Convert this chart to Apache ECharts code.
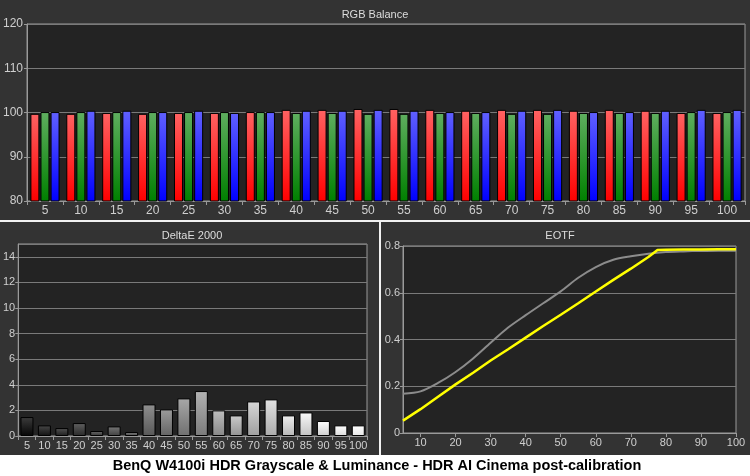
<!DOCTYPE html>
<html>
<head>
<meta charset="utf-8">
<script src="https://cdn.jsdelivr.net/npm/echarts@6/dist/echarts.min.js"></script>
<style>
html,body{margin:0;padding:0;background:#333;}
#c{width:750px;height:476px;}
</style>
</head>
<body>
<div id="c"></div>
<script>
// ---- data ----
var categories = ['5','10','15','20','25','30','35','40','45','50','55','60','65','70','75','80','85','90','95','100'];
var rgbRed   = [99.7, 99.7, 99.9, 99.7, 99.9, 99.9, 100.1, 100.6, 100.6, 100.8, 100.8, 100.6, 100.4, 100.6, 100.6, 100.4, 100.6, 100.4, 99.9, 99.9];
var rgbGreen = [100.1, 100.1, 100.1, 100.1, 100.1, 100.1, 100.1, 99.9, 99.9, 99.7, 99.7, 99.9, 99.9, 99.7, 99.7, 99.9, 99.9, 99.9, 100.1, 100.1];
var rgbBlue  = [100.1, 100.4, 100.4, 100.1, 100.4, 99.9, 100.1, 100.4, 100.4, 100.6, 100.4, 100.1, 100.1, 100.4, 100.6, 100.1, 100.1, 100.4, 100.6, 100.6];
var deltaE   = [1.48, 0.83, 0.62, 1.01, 0.39, 0.75, 0.31, 2.47, 2.08, 2.94, 3.51, 2.0, 1.61, 2.70, 2.86, 1.61, 1.84, 1.17, 0.83, 0.83];
var eotfTargetX = [5, 10, 15, 20, 25, 30, 35, 40, 45, 50, 55, 60, 65, 70, 75, 80, 85, 90, 95, 100];
var eotfTargetY = [0.168, 0.178, 0.214, 0.261, 0.319, 0.386, 0.451, 0.504, 0.555, 0.606, 0.664, 0.710, 0.741, 0.756, 0.767, 0.774, 0.777, 0.779, 0.780, 0.780];
var eotfMeasX = [5, 10, 15, 20, 25, 30, 35, 40, 45, 50, 55, 60, 65, 70, 75, 77.6, 80, 85, 90, 95, 100];
var eotfMeasY = [0.053, 0.102, 0.155, 0.208, 0.258, 0.310, 0.358, 0.408, 0.458, 0.506, 0.555, 0.605, 0.655, 0.703, 0.753, 0.783, 0.784, 0.785, 0.785, 0.786, 0.786];
var rgbTicks = [80, 120, 10];
var deltaTicks = [0, 15, 2];
var eotfYTicks = [0, 0.8, 0.2];
var eotfXLabels = [10, 20, 30, 40, 50, 60, 70, 80, 90, 100];
var chartTitle = 'BenQ W4100i HDR Grayscale & Luminance - HDR AI Cinema post-calibration';

// ---- styling helpers ----
function grad(top, bottom) {
  return new echarts.graphic.LinearGradient(0, 0, 0, 1, [{offset: 0, color: top}, {offset: 1, color: bottom}]);
}
function gray(v) { v = Math.max(0, Math.min(255, Math.round(v))); return 'rgb(' + v + ',' + v + ',' + v + ')'; }

var FONT = 'Liberation Sans';
var labelColor = '#cfcfcf';
var axisLineStyle = {color: '#9a9a9a', width: 1};
var splitStyle = {color: '#7a7a7a', width: 1};

var deltaData = deltaE.map(function (v, i) {
  var L = 25 + i * (225 / 19);
  return {value: v, itemStyle: {color: grad(gray(L + 35), gray(L - 20))}};
});

function pairs(xs, ys) { return xs.map(function (x, i) { return [x, ys[i]]; }); }

var chart = echarts.init(document.getElementById('c'), null, {renderer: 'canvas'});
chart.setOption({
  backgroundColor: '#333333',
  animation: false,
  textStyle: {fontFamily: FONT},
  grid: [
    {left: 26, top: 24, width: 719, height: 177, show: true, backgroundColor: '#232323', borderColor: '#9a9a9a', borderWidth: 1},
    {left: 18, top: 244, width: 349, height: 192, show: true, backgroundColor: '#232323', borderColor: '#9a9a9a', borderWidth: 1},
    {left: 403, top: 246, width: 333, height: 187, show: true, backgroundColor: '#232323', borderColor: '#9a9a9a', borderWidth: 1}
  ],
  xAxis: [
    {gridIndex: 0, type: 'category', data: categories,
     axisLine: {lineStyle: axisLineStyle}, axisTick: {show: true, length: 4, lineStyle: axisLineStyle},
     axisLabel: {color: labelColor, fontSize: 12, margin: 4, fontFamily: FONT}},
    {gridIndex: 1, type: 'category', data: categories,
     axisLine: {lineStyle: axisLineStyle}, axisTick: {show: true, length: 4, lineStyle: axisLineStyle},
     axisLabel: {color: labelColor, fontSize: 11, margin: 4, fontFamily: FONT, interval: 0}},
    {gridIndex: 2, type: 'value', min: 5, max: 100,
     axisLine: {lineStyle: axisLineStyle},
     axisTick: {show: true, length: 4, lineStyle: axisLineStyle, customValues: eotfXLabels},
     axisLabel: {color: labelColor, fontSize: 11, margin: 4, fontFamily: FONT, customValues: eotfXLabels},
     splitLine: {show: false}}
  ],
  yAxis: [
    {gridIndex: 0, type: 'value', min: rgbTicks[0], max: rgbTicks[1], interval: rgbTicks[2],
     axisLine: {show: true, lineStyle: axisLineStyle}, axisTick: {show: true, length: 3, lineStyle: axisLineStyle},
     axisLabel: {color: labelColor, fontSize: 12, margin: 4, fontFamily: FONT},
     splitLine: {lineStyle: splitStyle}},
    {gridIndex: 1, type: 'value', min: deltaTicks[0], max: deltaTicks[1], interval: deltaTicks[2],
     axisLine: {show: true, lineStyle: axisLineStyle}, axisTick: {show: true, length: 3, lineStyle: axisLineStyle},
     axisLabel: {color: labelColor, fontSize: 11, margin: 3, fontFamily: FONT, showMaxLabel: false},
     splitLine: {lineStyle: splitStyle}},
    {gridIndex: 2, type: 'value', min: eotfYTicks[0], max: eotfYTicks[1], interval: eotfYTicks[2],
     axisLine: {show: true, lineStyle: axisLineStyle}, axisTick: {show: true, length: 3, lineStyle: axisLineStyle},
     axisLabel: {color: labelColor, fontSize: 11, margin: 3, fontFamily: FONT},
     splitLine: {lineStyle: splitStyle}}
  ],
  series: [
    {type: 'bar', xAxisIndex: 0, yAxisIndex: 0, data: rgbRed, barWidth: 9, barGap: '12%',
     itemStyle: {color: grad('#ff6262', '#ff0000'), borderColor: '#000', borderWidth: 1}},
    {type: 'bar', xAxisIndex: 0, yAxisIndex: 0, data: rgbGreen, barWidth: 9, barGap: '12%',
     itemStyle: {color: grad('#5fae5f', '#008000'), borderColor: '#000', borderWidth: 1}},
    {type: 'bar', xAxisIndex: 0, yAxisIndex: 0, data: rgbBlue, barWidth: 9, barGap: '12%',
     itemStyle: {color: grad('#6060ff', '#0000ff'), borderColor: '#000', borderWidth: 1}},
    {type: 'bar', xAxisIndex: 1, yAxisIndex: 1, data: deltaData, barWidth: 13,
     itemStyle: {borderColor: '#000', borderWidth: 1}},
    {type: 'line', xAxisIndex: 2, yAxisIndex: 2, data: pairs(eotfTargetX, eotfTargetY), smooth: 0.3,
     showSymbol: false, lineStyle: {color: '#8c8c8c', width: 2}},
    {type: 'line', xAxisIndex: 2, yAxisIndex: 2, data: pairs(eotfMeasX, eotfMeasY),
     showSymbol: false, lineStyle: {color: '#ffff00', width: 2.5}}
  ],
  graphic: [
    {type: 'text', x: 375, y: 15, style: {text: 'RGB Balance', fill: '#dddddd', font: '11px ' + FONT, align: 'center', verticalAlign: 'middle'}},
    {type: 'text', x: 192, y: 236, style: {text: 'DeltaE 2000', fill: '#dddddd', font: '11px ' + FONT, align: 'center', verticalAlign: 'middle'}},
    {type: 'text', x: 560, y: 236, style: {text: 'EOTF', fill: '#dddddd', font: '11px ' + FONT, align: 'center', verticalAlign: 'middle'}},
    {type: 'rect', shape: {x: 0, y: 220, width: 750, height: 2}, style: {fill: '#f2f2f2'}},
    {type: 'rect', shape: {x: 379, y: 221, width: 2, height: 234}, style: {fill: '#f2f2f2'}},
    {type: 'rect', shape: {x: 0, y: 455, width: 750, height: 21}, style: {fill: '#ffffff'}},
    {type: 'text', x: 377, y: 466, style: {text: chartTitle, fill: '#000', font: 'bold 14.5px ' + FONT, align: 'center', verticalAlign: 'middle'}}
  ]
});
</script>
</body>
</html>
